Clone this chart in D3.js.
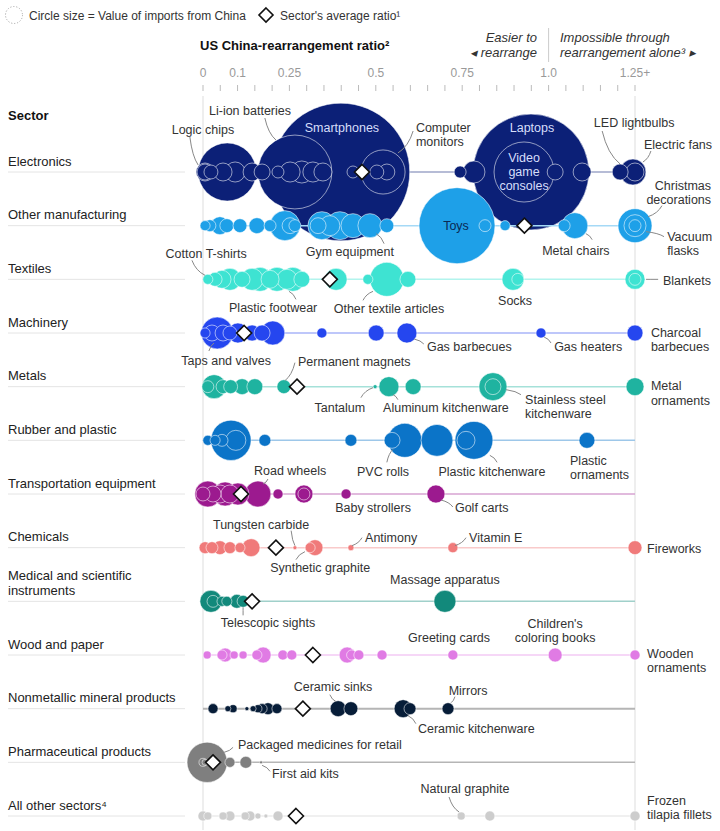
<!DOCTYPE html>
<html><head><meta charset="utf-8">
<script src="https://cdn.jsdelivr.net/npm/d3@7"></script>
<style>body{margin:0;background:#fff} text{font-family:"Liberation Sans",Arial,sans-serif}</style>
</head><body><svg id="c" width="720" height="831"></svg>
<script>
// ---------- DATA ----------
const sectorNames = ["Electronics","Other manufacturing","Textiles","Machinery","Metals","Rubber and plastic","Transportation equipment","Chemicals","Medical and scientific instruments","Wood and paper","Nonmetallic mineral products","Pharmaceutical products","All other sectors⁴"];
const sectorLabelLines = [["Electronics"],["Other manufacturing"],["Textiles"],["Machinery"],["Metals"],["Rubber and plastic"],["Transportation equipment"],["Chemicals"],["Medical and scientific","instruments"],["Wood and paper"],["Nonmetallic mineral products"],["Pharmaceutical products"],["All other sectors⁴"]];
const sectorColors = ["#0c2077","#1ea0e8","#3ee3d2","#2546ef","#1fb3a0","#0b74c8","#9c1a8f","#f07a7a","#12897b","#e07be4","#071d38","#7f7f7f","#cdcdcd"];
const tickValues = [0,0.1,0.25,0.5,0.75,1.0,1.25];
const tickLabels = ["0","0.1","0.25","0.5","0.75","1.0","1.25+"];
const averages = [0.46,0.93,0.367,0.119,0.272,null,0.11,0.211,0.142,0.318,0.289,0.029,0.269];

// [ratio, value of imports from China ($ billion)]
const electronics = [[0.006,0.7],[0.07,7.3],[0.006,0.55],[0.023,0.42],[0.058,0.7],[0.093,0.87],[0.142,0.7],[0.171,0.55],[0.217,0.31],[0.252,0.87],[0.286,1.05],[0.318,0.87],[0.347,0.7],[0.434,0.31],[0.503,0.42],[0.532,0.55],[0.266,11.8],[0.399,41],[0.521,4.2],[0.744,0.31],[0.784,1.05],[0.949,29],[0.929,7.8],[1.019,0.55],[1.097,0.7],[1.207,0.55],[1.244,1.46],[1.25,0.7]];
const otherManufacturing = [[0.006,0.22],[0.02,0.31],[0.049,0.7],[0.069,0.42],[0.107,0.42],[0.156,0.55],[0.194,0.31],[0.237,1.95],[0.252,0.55],[0.266,0.31],[0.333,0.55],[0.344,1.7],[0.367,0.87],[0.396,1.7],[0.434,1.25],[0.483,1.25],[0.532,0.42],[0.735,12.5],[0.816,0.31],[0.874,0.22],[1.045,0.31],[1.076,1.46],[1.25,2.5],[1.25,1.05],[1.25,0.31]];
const textiles = [[0.014,0.22],[0.035,0.42],[0.055,0.7],[0.078,1.05],[0.113,0.55],[0.142,1.05],[0.165,1.25],[0.194,0.7],[0.214,1.25],[0.243,0.87],[0.26,1.25],[0.286,0.55],[0.385,1.05],[0.477,0.22],[0.532,2.5],[0.593,0.55],[0.897,1.05],[0.911,0.31],[1.25,0.87],[1.25,0.31]];
const machinery = [[0.006,0.22],[0.026,0.55],[0.041,2.2],[0.058,0.55],[0.078,0.42],[0.101,0.87],[0.142,0.55],[0.171,0.55],[0.202,1.25],[0.344,0.22],[0.501,0.55],[0.59,0.87],[0.978,0.22],[1.25,0.55]];
const metals = [[0.014,0.31],[0.032,1.25],[0.058,0.42],[0.08,0.42],[0.113,0.55],[0.15,0.55],[0.234,0.42],[0.498,0.035],[0.538,0.87],[0.608,0.55],[0.839,1.7],[0.839,0.55],[1.25,0.7]];
const rubberPlastic = [[0.014,0.22],[0.035,0.22],[0.055,0.31],[0.081,3.5],[0.095,0.87],[0.179,0.31],[0.428,0.31],[0.547,0.55],[0.584,2.5],[0.677,2.2],[0.761,0.7],[0.784,3.1],[1.111,0.55]];
const transportation = [[0,0.42],[0.014,1.46],[0.029,0.55],[0.049,0.7],[0.064,1.25],[0.078,0.7],[0.101,1.05],[0.159,1.46],[0.217,0.22],[0.292,0.7],[0.292,0.31],[0.414,0.22],[0.674,0.7]];
const chemicals = [[0.006,0.31],[0.026,0.31],[0.049,0.42],[0.078,0.31],[0.107,0.22],[0.139,0.7],[0.266,0.035],[0.31,0.22],[0.324,0.55],[0.428,0.08],[0.723,0.22],[1.25,0.42]];
const medical = [[0.023,1.05],[0.029,0.31],[0.055,0.22],[0.069,0.22],[0.098,0.42],[0.116,0.31],[0.7,1.05]];
const woodPaper = [[0.012,0.14],[0.055,0.22],[0.064,0.42],[0.09,0.14],[0.116,0.14],[0.156,0.22],[0.174,0.55],[0.231,0.22],[0.257,0.22],[0.417,0.55],[0.43,0.22],[0.451,0.22],[0.518,0.22],[0.723,0.22],[1.019,0.42],[1.25,0.22]];
const nonmetallic = [[0.029,0.22],[0.072,0.08],[0.087,0.14],[0.127,0.035],[0.145,0.08],[0.159,0.14],[0.171,0.22],[0.188,0.31],[0.214,0.22],[0.391,0.55],[0.428,0.42],[0.579,0.7],[0.599,0.31],[0.709,0.31]];
const pharmaceutical = [[0.012,3.5],[0,0.14],[0.006,0.08],[0.078,0.22],[0.124,0.31],[0.168,0.02]];
const allOther = [[0,0.22],[0.014,0.14],[0.058,0.14],[0.078,0.22],[0.122,0.14],[0.136,0.22],[0.159,0.08],[0.182,0.035],[0.217,0.22],[0.747,0.14],[0.83,0.22],[1.25,0.22]];
const sectorItems = [electronics,otherManufacturing,textiles,machinery,metals,rubberPlastic,transportation,chemicals,medical,woodPaper,nonmetallic,pharmaceutical,allOther];

// annotations: sector index, text lines, ratio position, vertical offset from row, anchor, pointer [ratio1, dy1, ratio2, dy2]
const annotations = [
 {s:0,t:["Logic chips"],at:0,dy:[-42],a:"middle",p:[-0.038,-35,-0.014,-7]},
 {s:0,t:["Li-ion batteries"],at:0.136,dy:[-61],a:"middle",p:[0.179,-54,0.211,-32]},
 {s:0,t:["Smartphones"],at:0.402,dy:[-44],a:"middle",w:true},
 {s:0,t:["Computer","monitors"],at:0.616,dy:[-44,-30],a:"start",p:[0.608,-41,0.564,-19]},
 {s:0,t:["Laptops"],at:0.952,dy:[-44],a:"middle",w:true},
 {s:0,t:["Video","game","consoles"],at:0.929,dy:[-14,0,14],a:"middle",w:true},
 {s:0,t:["LED lightbulbs"],at:1.131,dy:[-49],a:"start",p:[1.155,-41,1.207,-8]},
 {s:0,t:["Electric fans"],at:1.276,dy:[-27],a:"start",p:[1.296,-21,1.273,-10]},
 {s:1,t:["Christmas","decorations"],at:1.47,dy:[-40,-26],a:"end",p:[1.328,-20,1.288,-9]},
 {s:1,t:["Toys"],at:0.732,dy:[0],a:"middle",d:true},
 {s:1,t:["Gym equipment"],at:0.425,dy:[26],a:"middle",p:[0.524,18,0.501,8]},
 {s:1,t:["Metal chairs"],at:1.079,dy:[25],a:"middle",p:[1.126,14,1.108,8]},
 {s:1,t:["Vacuum","flasks"],at:1.343,dy:[11,25],a:"start",p:[1.334,11,1.282,6]},
 {s:2,t:["Cotton T-shirts"],at:0.009,dy:[-26],a:"middle",p:[-0.032,-19,0.006,-4]},
 {s:2,t:["Plastic footwear"],at:0.203,dy:[28],a:"middle",p:[0.269,20,0.249,12]},
 {s:2,t:["Other textile articles"],at:0.538,dy:[29],a:"middle",p:[0.463,21,0.492,12]},
 {s:2,t:["Socks"],at:0.903,dy:[21],a:"middle"},
 {s:2,t:["Blankets"],at:1.331,dy:[1],a:"start",p:[1.282,0,1.317,0]},
 {s:3,t:["Taps and valves"],at:0.067,dy:[28],a:"middle",p:[0.017,18,0.032,10]},
 {s:3,t:["Gas barbecues"],at:0.648,dy:[14],a:"start",p:[0.639,11,0.611,6]},
 {s:3,t:["Gas heaters"],at:1.016,dy:[14],a:"start",p:[1.007,10,0.987,4]},
 {s:3,t:["Charcoal","barbecues"],at:1.296,dy:[0,14],a:"start"},
 {s:4,t:["Permanent magnets"],at:0.275,dy:[-25],a:"start",p:[0.266,-24,0.237,-6]},
 {s:4,t:["Tantalum"],at:0.396,dy:[21],a:"middle",p:[0.457,11,0.492,1]},
 {s:4,t:["Aluminum kitchenware"],at:0.703,dy:[21],a:"middle",p:[0.564,13,0.55,8]},
 {s:4,t:["Stainless steel","kitchenware"],at:0.932,dy:[13,27],a:"start",p:[0.92,8,0.877,3]},
 {s:4,t:["Metal","ornaments"],at:1.296,dy:[-1,14],a:"start"},
 {s:5,t:["PVC rolls"],at:0.521,dy:[31],a:"middle",p:[0.532,22,0.55,9]},
 {s:5,t:["Plastic kitchenware"],at:0.836,dy:[31],a:"middle",p:[0.851,22,0.83,15]},
 {s:5,t:["Plastic","ornaments"],at:1.062,dy:[20,34],a:"start"},
 {s:6,t:["Road wheels"],at:0.252,dy:[-23],a:"middle",p:[0.188,-15,0.174,-10]},
 {s:6,t:["Baby strollers"],at:0.492,dy:[14],a:"middle"},
 {s:6,t:["Golf carts"],at:0.729,dy:[14],a:"start",p:[0.723,13,0.689,6]},
 {s:7,t:["Tungsten carbide"],at:0.168,dy:[-23],a:"middle",p:[0.255,-17,0.266,-2]},
 {s:7,t:["Synthetic graphite"],at:0.339,dy:[20],a:"middle",p:[0.269,12,0.295,4]},
 {s:7,t:["Antimony"],at:0.469,dy:[-10],a:"start",p:[0.46,-10,0.431,-2]},
 {s:7,t:["Vitamin E"],at:0.77,dy:[-10],a:"start",p:[0.761,-10,0.729,-2]},
 {s:7,t:["Fireworks"],at:1.285,dy:[1],a:"start"},
 {s:8,t:["Massage apparatus"],at:0.7,dy:[-22],a:"middle"},
 {s:8,t:["Telescopic sights"],at:0.188,dy:[21],a:"middle",p:[0.116,14,0.116,6]},
 {s:9,t:["Greeting cards"],at:0.712,dy:[-17],a:"middle"},
 {s:9,t:["Children's","coloring books"],at:1.019,dy:[-31,-17],a:"middle"},
 {s:9,t:["Wooden","ornaments"],at:1.285,dy:[-1,13],a:"start"},
 {s:10,t:["Ceramic sinks"],at:0.376,dy:[-22],a:"middle",p:[0.367,-14,0.385,-7]},
 {s:10,t:["Mirrors"],at:0.767,dy:[-18],a:"middle",p:[0.729,-12,0.718,-6]},
 {s:10,t:["Ceramic kitchenware"],at:0.622,dy:[20],a:"start",p:[0.616,15,0.593,7]},
 {s:11,t:["Packaged medicines for retail"],at:0.101,dy:[-18],a:"start",p:[0.087,-15,0.061,-10]},
 {s:11,t:["First aid kits"],at:0.2,dy:[11],a:"start",p:[0.194,9,0.171,3]},
 {s:12,t:["Natural graphite"],at:0.758,dy:[-27],a:"middle",p:[0.712,-19,0.741,-4]},
 {s:12,t:["Frozen","tilapia fillets"],at:1.285,dy:[-15,-1],a:"start"}
];

// ---------- CHART ----------
const svg = d3.select("#c");
const x = d3.scaleLinear().domain([0,1.25]).range([203,635]);
const y = d3.scalePoint().domain(sectorNames).range([172,816]);
const r = d3.scaleSqrt().domain([0,40]).range([0,68]);
const txt = "#333";

// legend
svg.append("circle").attr("cx",14).attr("cy",15).attr("r",8.5).attr("fill","none").attr("stroke","#aaa").attr("stroke-dasharray","1.2,1.8");
svg.append("text").attr("x",29).attr("y",19.5).attr("font-size",12).attr("fill",txt).text("Circle size = Value of imports from China");
const diamond = (g,cx,cy,s) => g.append("path").attr("d",`M${cx},${cy-s}L${cx+s},${cy}L${cx},${cy+s}L${cx-s},${cy}Z`).attr("fill","#fff").attr("stroke","#111").attr("stroke-width",1.6);
diamond(svg,266,15,7);
svg.append("text").attr("x",280).attr("y",19.5).attr("font-size",12).attr("fill",txt).text("Sector's average ratio¹");

// headers
svg.append("text").attr("x",200).attr("y",50).attr("font-size",13).attr("font-weight","bold").attr("fill","#111").text("US China-rearrangement ratio²");
svg.append("text").attr("x",8).attr("y",120).attr("font-size",13).attr("font-weight","bold").attr("fill","#111").text("Sector");
const it = svg.append("g").attr("font-size",13).attr("font-style","italic").attr("fill",txt);
it.append("text").attr("x",537).attr("y",42).attr("text-anchor","end").text("Easier to");
it.append("text").attr("x",537).attr("y",57).attr("text-anchor","end").text("◂ rearrange");
it.append("text").attr("x",560).attr("y",42).text("Impossible through");
it.append("text").attr("x",560).attr("y",57).text("rearrangement alone³ ▸");
svg.append("line").attr("x1",x(1)).attr("x2",x(1)).attr("y1",28).attr("y2",62).attr("stroke","#ccc");

// axis ticks
const tickG = svg.append("g");
tickG.selectAll("line").data(d3.range(0,26).map(i=>i*0.05)).join("line")
  .attr("x1",d=>x(d)).attr("x2",d=>x(d)).attr("y1",85).attr("y2",91).attr("stroke","#bbb");
tickG.selectAll("text").data(tickValues).join("text")
  .attr("x",d=>x(d)).attr("y",77).attr("text-anchor","middle").attr("font-size",12).attr("fill","#999")
  .text((d,i)=>tickLabels[i]);

// vertical guides
[0,1.25].forEach(v=>svg.append("line").attr("x1",x(v)).attr("x2",x(v)).attr("y1",96).attr("y2",830).attr("stroke","#ddd"));

// sector labels
sectorNames.forEach((n,i)=>{
  const yy = y(n);
  svg.append("line").attr("x1",8).attr("x2",185).attr("y1",yy).attr("y2",yy).attr("stroke","#e4e4e4");
  const lines = sectorLabelLines[i];
  lines.forEach((l,j)=>{
    svg.append("text").attr("x",8).attr("y",yy-11-(lines.length-1-j)*15).attr("dy","0.35em").attr("font-size",13).attr("fill","#222").text(l);
  });
});

// rows
sectorNames.forEach((n,i)=>{
  const yy = y(n), col = sectorColors[i];
  const g = svg.append("g");
  const lineCol = (i===10||i===11) ? "#b5b5b5" : d3.interpolateRgb(col,"#fff")(0.6);
  g.append("line").attr("x1",x(0)).attr("x2",x(1.25)).attr("y1",yy).attr("y2",yy).attr("stroke",lineCol).attr("stroke-width",(i===10)?2:1.5);
  const items = sectorItems[i].slice().sort((a,b)=>b[1]-a[1]);
  g.selectAll("circle").data(items).join("circle")
    .attr("cx",d=>x(d[0])).attr("cy",yy).attr("r",d=>r(d[1]))
    .attr("fill",col).attr("stroke","#fff").attr("stroke-opacity",0.55).attr("stroke-width",1);
  if (averages[i]!==null) diamond(g,x(averages[i]),yy,7.5);
});

// annotations
const ag = svg.append("g");
annotations.forEach(a=>{
  const yy = y(sectorNames[a.s]);
  if (a.p) {
    const x1=x(a.p[0]), y1=yy+a.p[1], x2=x(a.p[2]), y2=yy+a.p[3];
    const cx = x1*0.7+x2*0.3, cy = y1*0.3+y2*0.7;
    ag.append("path").attr("d",`M${x1},${y1}Q${cx},${cy} ${x2},${y2}`).attr("fill","none").attr("stroke","#888").attr("stroke-width",1);
  }
  a.t.forEach((l,j)=>{
    ag.append("text").attr("x",x(a.at)).attr("y",yy+a.dy[j]).attr("dy","0.35em")
      .attr("text-anchor",a.a).attr("font-size",12.5)
      .attr("fill",a.w?"#d6defa":(a.d?"#0b2a55":txt)).text(l);
  });
});
</script></body></html>
